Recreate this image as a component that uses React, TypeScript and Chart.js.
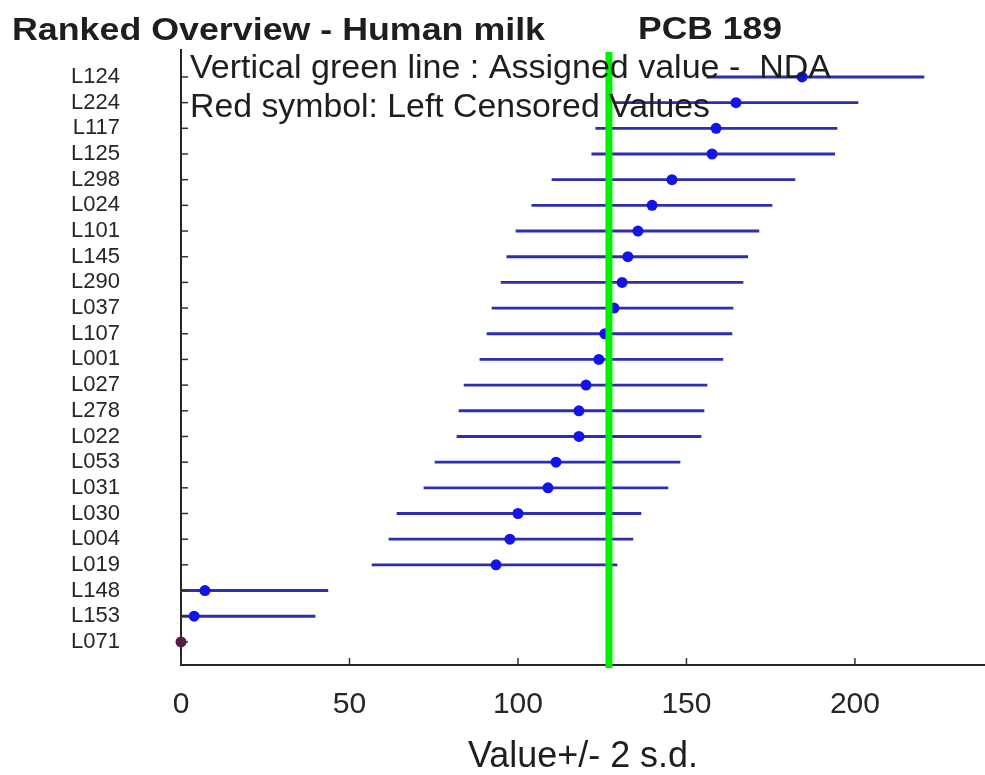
import React, { useEffect, useRef } from 'react';
import { Chart, registerables } from 'chart.js';

Chart.register(...registerables);

// ---- Data ----
const labs = ['L124', 'L224', 'L117', 'L125', 'L298', 'L024', 'L101', 'L145', 'L290', 'L037', 'L107', 'L001',
  'L027', 'L278', 'L022', 'L053', 'L031', 'L030', 'L004', 'L019', 'L148', 'L153', 'L071'];
const values = [184.3, 164.7, 158.8, 157.6, 145.7, 139.8, 135.6, 132.6, 130.9, 128.5, 125.8, 124.0,
  120.2, 118.1, 118.1, 111.3, 108.9, 100.0, 97.6, 93.5, 7.1, 3.9, 0];
const lows = [156.1, 128.8, 123.1, 121.9, 110.1, 104.1, 99.4, 96.7, 95.0, 92.3, 90.8, 88.7,
  84.0, 82.5, 81.9, 75.4, 72.1, 64.1, 61.7, 56.7, -29.0, -32.0, null];
const highs = [220.5, 200.9, 194.7, 194.0, 182.2, 175.4, 171.5, 168.2, 166.8, 163.8, 163.5, 160.8,
  156.1, 155.2, 154.3, 148.1, 144.5, 136.5, 134.1, 129.4, 43.6, 39.8, null];
const censored = [false, false, false, false, false, false, false, false, false, false, false, false,
  false, false, false, false, false, false, false, false, false, false, true];
const assignedValue = 127;
const xTickValues = [0, 50, 100, 150, 200];
const titleLeft = 'Ranked Overview - Human milk';
const titleRight = 'PCB 189';
const note1 = 'Vertical green line : Assigned value -  NDA';
const note2 = 'Red symbol: Left Censored Values';
const xTitle = 'Value+/- 2 s.d.';

const FONT = '"Liberation Sans", Arial, Helvetica, sans-serif';

function drawFitText(ctx: CanvasRenderingContext2D, text: string, x: number, baseline: number,
  font: string, width: number) {
  ctx.save();
  ctx.font = font;
  ctx.textAlign = 'left';
  ctx.textBaseline = 'alphabetic';
  const w = ctx.measureText(text).width;
  ctx.translate(x, baseline);
  ctx.scale(width / w, 1);
  ctx.fillStyle = '#1e1e1e';
  ctx.fillText(text, 0, 0);
  ctx.restore();
}

const zeroPad = (s: any) => {
  s.paddingTop = 0;
  s.paddingBottom = 0;
  s.paddingLeft = 0;
  s.paddingRight = 0;
};

const overlay = {
  id: 'overlay',
  afterDatasetsDraw(chart: any) {
    const ctx: CanvasRenderingContext2D = chart.ctx;
    const { chartArea } = chart;
    const xs = chart.scales.x;
    const ys = chart.scales.y;
    ctx.save();
    ctx.strokeStyle = '#333';
    ctx.lineWidth = 1.5;
    ys.ticks.forEach((t: any) => {
      const y = ys.getPixelForValue(t.value);
      ctx.beginPath();
      ctx.moveTo(chartArea.left, y);
      ctx.lineTo(chartArea.left + 7, y);
      ctx.stroke();
    });
    xs.ticks.forEach((t: any) => {
      const x = xs.getPixelForValue(t.value);
      ctx.beginPath();
      ctx.moveTo(x, chartArea.bottom);
      ctx.lineTo(x, chartArea.bottom - 7);
      ctx.stroke();
    });
    const gx = xs.getPixelForValue(assignedValue);
    ctx.strokeStyle = '#00ee00';
    ctx.lineWidth = 7;
    ctx.beginPath();
    ctx.moveTo(gx, chartArea.top + 2);
    ctx.lineTo(gx, chartArea.bottom + 3);
    ctx.stroke();
    ctx.restore();
  },
  afterDraw(chart: any) {
    const ctx: CanvasRenderingContext2D = chart.ctx;
    drawFitText(ctx, titleLeft, 12, 40, `bold 31px ${FONT}`, 533);
    drawFitText(ctx, titleRight, 638, 39, `bold 31px ${FONT}`, 144);
    drawFitText(ctx, note1, 190, 78, `33px ${FONT}`, 641);
    drawFitText(ctx, note2, 190, 117, `33px ${FONT}`, 520);
    drawFitText(ctx, xTitle, 468, 767, `36px ${FONT}`, 230);
  },
};

export default function App() {
  const ref = useRef<HTMLCanvasElement | null>(null);

  useEffect(() => {
    if (!ref.current) return;
    const rows = labs.map((_, i) => ({ i, lo: lows[i], hi: highs[i], v: values[i], c: censored[i] }));
    const barData = rows
      .filter((r) => r.lo != null && r.hi != null)
      .map((r) => ({ x: [r.lo, r.hi], y: r.i + 1 }));
    const pointData = rows.filter((r) => !r.c).map((r) => ({ x: r.v, y: r.i + 1 }));
    const censData = rows.filter((r) => r.c).map((r) => ({ x: r.v, y: r.i + 1 }));

    const chart = new Chart(ref.current, {
      type: 'bar',
      data: {
        datasets: [
          {
            type: 'line',
            data: pointData as any,
            showLine: false,
            pointRadius: 5.5,
            pointBackgroundColor: '#1414e8',
            pointBorderColor: '#1414e8',
            pointBorderWidth: 0,
            clip: false as any,
            order: 0,
          } as any,
          {
            type: 'line',
            data: censData as any,
            showLine: false,
            pointRadius: 5.5,
            pointBackgroundColor: '#5a1846',
            pointBorderColor: '#5a1846',
            pointBorderWidth: 0,
            clip: false as any,
            order: 0,
          } as any,
          {
            type: 'bar',
            data: barData as any,
            backgroundColor: '#2e2eb0',
            borderWidth: 0,
            barThickness: 2.2,
            order: 1,
          } as any,
        ],
      },
      options: {
        indexAxis: 'y',
        animation: false,
        responsive: true,
        maintainAspectRatio: false,
        layout: { autoPadding: false, padding: { top: 50, right: 0, left: 0, bottom: 0 } },
        plugins: {
          legend: { display: false },
          tooltip: { enabled: false },
          title: { display: false },
        },
        scales: {
          x: {
            type: 'linear',
            min: 0,
            max: 238.6,
            offset: false,
            afterBuildTicks: (s: any) => {
              s.ticks = xTickValues.map((v) => ({ value: v }));
            },
            afterFit: (s: any) => {
              s.height = 110;
              zeroPad(s);
            },
            grid: { drawOnChartArea: false, drawTicks: false, offset: false },
            border: { display: true, color: '#262626', width: 2 },
            ticks: {
              color: '#262626',
              font: { family: FONT, size: 30 },
              padding: 22,
              maxRotation: 0,
            },
          },
          y: {
            type: 'linear',
            reverse: true,
            min: -0.05,
            max: 23.9,
            offset: false,
            afterBuildTicks: (s: any) => {
              s.ticks = labs.map((_, i) => ({ value: i + 1 }));
            },
            afterFit: (s: any) => {
              s.width = 181;
              zeroPad(s);
            },
            grid: { drawOnChartArea: false, drawTicks: false, offset: false },
            border: { display: true, color: '#262626', width: 2 },
            ticks: {
              autoSkip: false,
              color: '#262626',
              font: { family: FONT, size: 22 },
              padding: 61,
              callback: (v: any) => labs[Math.round(Number(v)) - 1] ?? '',
            },
          },
        },
      },
      plugins: [overlay],
    });
    return () => chart.destroy();
  }, []);

  return (
    <div style={{ position: 'absolute', left: 0, top: 0, width: 985, height: 775, background: '#fff' }}>
      <canvas ref={ref} />
    </div>
  );
}
